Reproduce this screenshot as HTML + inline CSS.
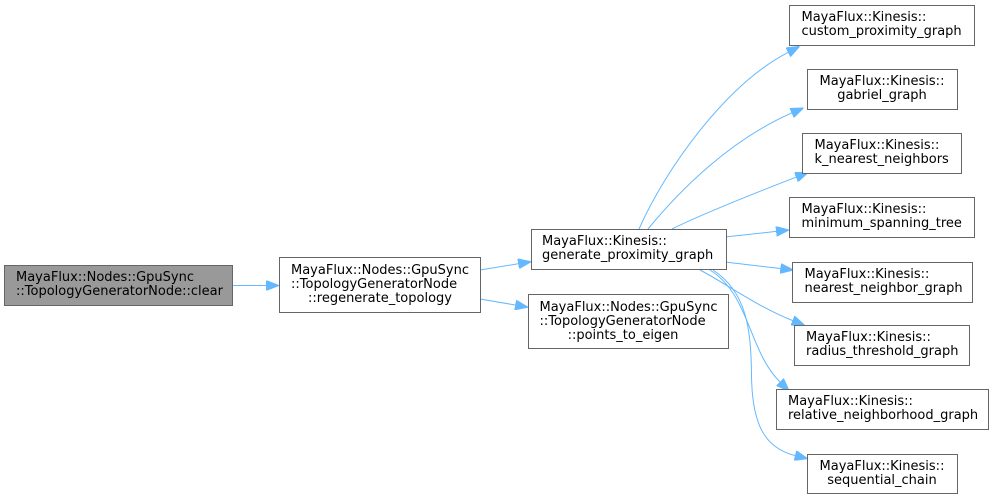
<!DOCTYPE html>
<html>
<head>
<meta charset="utf-8">
<style>
html,body{margin:0;padding:0;background:#fff;}
svg{display:block;}
text{font-family:"DejaVu Sans","Liberation Sans",sans-serif;font-size:13px;fill:#000;}
</style>
</head>
<body>
<svg width="993" height="499" viewBox="0 0 993 499" xmlns="http://www.w3.org/2000/svg">
<defs>
<marker id="ah" viewBox="0 0 13 10" refX="0" refY="5" markerWidth="13" markerHeight="10" markerUnits="userSpaceOnUse" orient="auto">
<path d="M0,0 L13,5 L0,10 z" fill="#63b8ff" stroke="#63b8ff" stroke-width="1"/>
</marker>
</defs>
<g fill="none" stroke="#63b8ff" stroke-width="1" marker-end="url(#ah)">
<path d="M232,285.5 L266,285.5"/>
<path d="M480,270 L518.2,263.8"/>
<path d="M480,299 L515.2,305"/>
<path d="M639,229 C665,170 725,85 788,52.4"/>
<path d="M648,229 C680,190 730,140 791.6,113.1"/>
<path d="M672,229 C700,215 750,195 796,177.2"/>
<path d="M725,237 L776.1,231.4"/>
<path d="M725,262 L780.4,268.5"/>
<path d="M700,270 C725,283 758,307 792.5,320.5"/>
<path d="M710,270 C750,295 748,350 780,382"/>
<path d="M713,270 C747,292 751,330 751.5,375 C752,425 765,448 795,455.5"/>
</g>
<g stroke="#666666" stroke-width="1">
<rect x="4.5" y="265.5" width="228" height="40" fill="#999999"/>
<rect x="279.5" y="257.5" width="201" height="55" fill="#fff"/>
<rect x="531.5" y="229.5" width="195" height="40" fill="#fff"/>
<rect x="528.5" y="294.5" width="200" height="54" fill="#fff"/>
<rect x="789.5" y="5.5" width="185" height="40" fill="#fff"/>
<rect x="807.5" y="69.5" width="150" height="40" fill="#fff"/>
<rect x="802.5" y="133.5" width="159" height="40" fill="#fff"/>
<rect x="789.5" y="197.5" width="185" height="40" fill="#fff"/>
<rect x="792.5" y="262.5" width="180" height="40" fill="#fff"/>
<rect x="794.5" y="325.5" width="175" height="40" fill="#fff"/>
<rect x="776.5" y="389.5" width="212" height="40" fill="#fff"/>
<rect x="807.5" y="454.5" width="150" height="39" fill="#fff"/>
</g>
<text x="16" y="281">MayaFlux::Nodes::GpuSync</text>
<text x="16" y="295">::TopologyGeneratorNode::clear</text>

<text x="291" y="274">MayaFlux::Nodes::GpuSync</text>
<text x="291" y="288">::TopologyGeneratorNode</text>
<text x="380" y="302" text-anchor="middle">::regenerate_topology</text>

<text x="542" y="245">MayaFlux::Kinesis::</text>
<text x="542" y="259">generate_proximity_graph</text>

<text x="539.5" y="311">MayaFlux::Nodes::GpuSync</text>
<text x="539.5" y="325">::TopologyGeneratorNode</text>
<text x="623" y="339" text-anchor="middle">::points_to_eigen</text>

<text x="801.5" y="21">MayaFlux::Kinesis::</text>
<text x="801.5" y="35">custom_proximity_graph</text>

<text x="882" y="85" text-anchor="middle">MayaFlux::Kinesis::</text>
<text x="882" y="99" text-anchor="middle">gabriel_graph</text>

<text x="814.5" y="149">MayaFlux::Kinesis::</text>
<text x="814.5" y="163">k_nearest_neighbors</text>

<text x="801.5" y="213">MayaFlux::Kinesis::</text>
<text x="801.5" y="227">minimum_spanning_tree</text>

<text x="804.5" y="278">MayaFlux::Kinesis::</text>
<text x="804.5" y="292">nearest_neighbor_graph</text>

<text x="806" y="341">MayaFlux::Kinesis::</text>
<text x="806" y="355">radius_threshold_graph</text>

<text x="788" y="405">MayaFlux::Kinesis::</text>
<text x="788" y="419">relative_neighborhood_graph</text>

<text x="882" y="470" text-anchor="middle">MayaFlux::Kinesis::</text>
<text x="882" y="484" text-anchor="middle">sequential_chain</text>
</svg>
</body>
</html>
